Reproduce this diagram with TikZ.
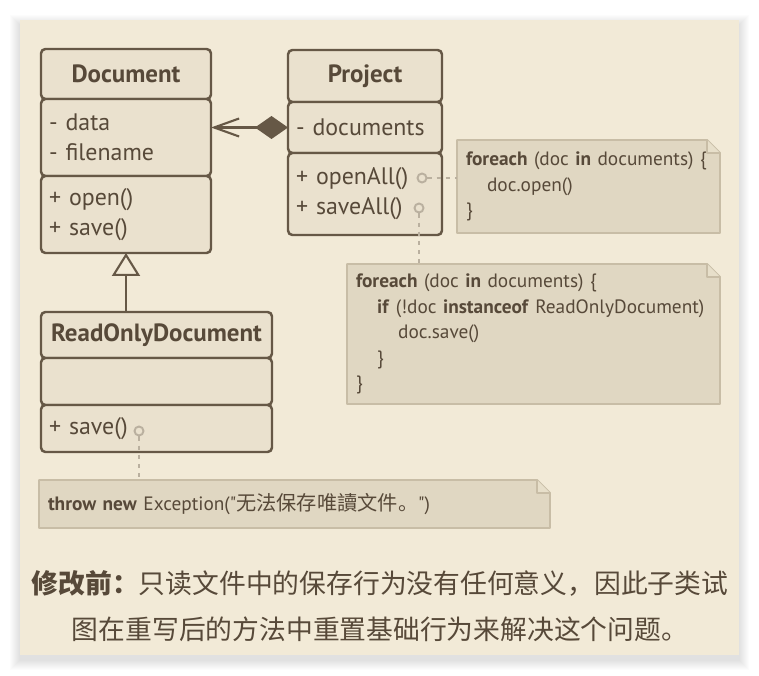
\documentclass[tikz,border=0pt]{standalone}
\usepackage{fontspec}
\setmainfont{PT Sans}[WordSpace=0.7, Ligatures=TeXOff]
\newfontfamily\cjk{Noto Sans CJK SC}
\usetikzlibrary{arrows.meta, positioning, calc}

\newlength\pxu
\setlength\pxu{0.02cm}
\definecolor{panelbg}{HTML}{F2EAD7}
\definecolor{umlfill}{HTML}{EAE1CE}
\definecolor{umlline}{HTML}{665846}
\definecolor{ink}{HTML}{574939}
\definecolor{notefill}{HTML}{E0D7C2}
\definecolor{noteedge}{HTML}{C8BDA6}
\definecolor{portcol}{HTML}{BAB09F}

\newcommand\umlfont{\fontsize{13.6}{17}\selectfont}
\newcommand\headfont{\fontsize{14.2}{17}\selectfont\bfseries}
\newcommand\notefont{\fontsize{11}{14.5}\selectfont}

% folded corner drawn over a note node
\newcommand\notefold[1]{%
  \fill[panelbg] ($(#1.north east)+(-13,0)$) -- (#1.north east) -- ($(#1.north east)+(0,13)$) -- cycle;
  \draw[notebox] (#1.north west) -- ($(#1.north east)+(-13,0)$) -- ($(#1.north east)+(0,13)$)
    -- (#1.south east) -- (#1.south west) -- cycle;
  \draw[notebox, fill=notefill!60!panelbg] ($(#1.north east)+(-13,0)$) -- ($(#1.north east)+(-13,13)$)
    -- ($(#1.north east)+(0,13)$);
}

\begin{document}
\begin{tikzpicture}[x=0.02cm, y=-0.02cm,
    compart/.style={draw=umlline, fill=umlfill, line width=1.4pt, rounded corners=2.5pt,
      inner xsep=8\pxu, inner ysep=0pt, outer sep=0pt, text=ink, font=\umlfont},
    umlhead/.style 2 args={compart, align=center, font=\headfont,
      minimum width=#1\pxu, text width=#2\pxu},
    umlpart/.style 2 args={compart, align=left, minimum width=#1\pxu, text width=#2\pxu},
    note/.style={fill=notefill, inner xsep=9\pxu, inner ysep=0pt, outer sep=0pt,
      align=left, text=ink, font=\notefont, anchor=north west},
    notebox/.style={draw=noteedge, line width=1.1pt, line join=round},
    port/.style={circle, draw=portcol, fill=umlfill, line width=1.1pt,
      minimum size=9\pxu, inner sep=0pt},
    noteline/.style={draw=portcol, line width=1.3pt, dash pattern=on 2.4pt off 2.8pt},
    assoc/.style={draw=umlline, line width=1.2pt}]
\useasboundingbox (0,0) rectangle (759,675);

%% panel with soft shadow
\foreach \k in {1,...,10}{
  \fill[black, opacity=0.012] (20-\k,20-\k+5) rectangle (739+\k,655+\k+5);
}
\fill[panelbg] (20,20) rectangle (739,655);

%% Document
\node[umlhead={170}{154}, minimum height=50\pxu, anchor=north west] (dochead) at (41,49) {Document};
\node[umlpart={170}{154}, minimum height=77\pxu, below=0pt of dochead] (docattr) {- data\\- filename};
\node[umlpart={170}{154}, minimum height=77\pxu, below=0pt of docattr] (docmeth) {+ open()\\+ save()};

%% Project
\node[umlhead={154}{138}, minimum height=52\pxu, anchor=north west] (projhead) at (288,50) {Project};
\node[umlpart={154}{138}, minimum height=51\pxu, below=0pt of projhead] (projattr) {- documents};
\node[umlpart={154}{138}, minimum height=82\pxu, below=0pt of projattr] (projmeth) {+ openAll()\\+ saveAll()};
\node[port] (openport) at (422,178) {};
\node[port] (saveport) at (419,208) {};

%% ReadOnlyDocument
\node[umlhead={231}{215}, minimum height=46\pxu, anchor=north west] (rodhead) at (41,312) {ReadOnlyDocument};
\node[umlpart={231}{215}, minimum height=47\pxu, below=0pt of rodhead] (rodattr) {};
\node[umlpart={231}{215}, minimum height=47\pxu, below=0pt of rodattr] (rodmeth) {+ save()};
\node[port] (rodport) at (139,431) {};

%% relations
\draw[assoc, {Diamond[length=0.66cm, width=0.46cm]}-{Straight Barb[length=0.5cm, width=0.36cm]}]
  (projattr.west) -- (projattr.west -| docattr.east);
\draw[assoc, -{Triangle[open, fill=panelbg, length=0.46cm, width=0.56cm]}]
  (docmeth.south |- rodhead.north) -- (docmeth.south);

%% notes
\node[note, minimum width=263\pxu, minimum height=93\pxu, text width=245\pxu] (opennote) at (457,140)
  {\textbf{foreach} (doc \textbf{in} documents) \{\\\hspace*{12pt}doc.open()\\\}};
\notefold{opennote}
\node[note, minimum width=373\pxu, minimum height=140\pxu, text width=355\pxu] (savenote) at (347,264)
  {\textbf{foreach} (doc \textbf{in} documents) \{\\
   \hspace*{12pt}\textbf{if} (!doc \textbf{instanceof} ReadOnlyDocument)\\
   \hspace*{24pt}doc.save()\\
   \hspace*{12pt}\}\\\}};
\notefold{savenote}
\node[note, minimum width=511\pxu, minimum height=48\pxu, text width=493\pxu] (rodnote) at (39,480)
  {\textbf{throw new} Exception("{\cjk\fontsize{11.5}{14.5}\selectfont 无法保存唯讀文件。}")};
\notefold{rodnote}

\draw[noteline] (openport) -- (openport -| opennote.west);
\draw[noteline] (saveport) -- (saveport |- savenote.north);
\draw[noteline] (rodport) -- (rodport |- rodnote.north);

%% caption
\node[font=\cjk\fontsize{15.25}{26.6}\selectfont, text=ink, align=center] (caption) at (380,606)
  {{\bfseries 修改前：}只读文件中的保存行为没有任何意义，因此子类试\\图在重写后的方法中重置基础行为来解决这个问题。};
\end{tikzpicture}
\end{document}
